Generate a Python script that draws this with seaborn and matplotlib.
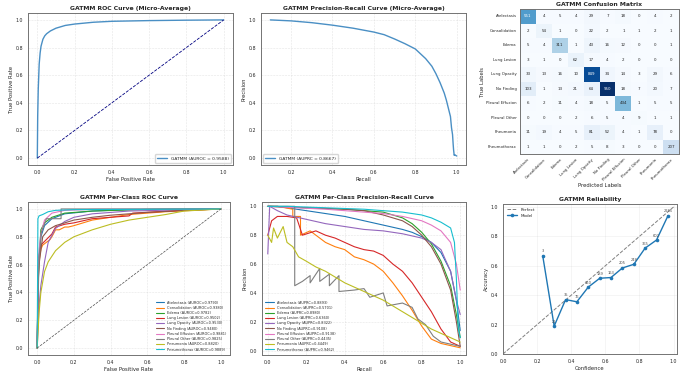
import numpy as np
import pandas as pd
import matplotlib
matplotlib.use("Agg")
import matplotlib.pyplot as plt
import seaborn as sns

# ---------------- data ----------------
classes = ["Atelectasis", "Consolidation", "Edema", "Lung Lesion", "Lung Opacity",
           "No Finding", "Pleural Effusion", "Pleural Other", "Pneumonia", "Pneumothorax"]

cm = [[551, 4, 5, 4, 29, 7, 18, 0, 4, 2],
      [2, 54, 1, 0, 22, 2, 1, 1, 2, 1],
      [5, 4, 311, 1, 43, 16, 12, 0, 0, 1],
      [3, 1, 0, 62, 17, 4, 2, 0, 0, 0],
      [33, 13, 16, 10, 849, 34, 14, 3, 29, 6],
      [103, 1, 13, 21, 64, 950, 18, 7, 20, 7],
      [6, 2, 11, 4, 18, 5, 434, 1, 5, 5],
      [0, 0, 0, 2, 6, 5, 4, 9, 1, 1],
      [11, 19, 4, 5, 81, 52, 4, 1, 78, 0],
      [1, 1, 0, 2, 5, 8, 3, 0, 0, 207]]

micro_auroc = 0.9588
micro_auprc = 0.8667
micro_fpr = [0, 0.002, 0.005, 0.01, 0.015, 0.02, 0.03, 0.04, 0.05, 0.07, 0.1, 0.15, 0.2, 0.3, 0.4, 0.6, 0.8, 1.0]
micro_tpr = [0, 0.3, 0.5, 0.68, 0.76, 0.81, 0.86, 0.885, 0.90, 0.92, 0.94, 0.96, 0.97, 0.983, 0.99, 0.995, 0.998, 1.0]

micro_rec = [0.1, 0.2, 0.3, 0.4, 0.5, 0.6, 0.65, 0.7, 0.75, 0.8, 0.85, 0.88, 0.9, 0.92, 0.94, 0.95, 0.96, 0.97,
             0.975, 0.98, 0.983, 0.985, 0.988, 0.99, 1.0]
micro_prec = [1.0, 0.993, 0.98, 0.962, 0.94, 0.912, 0.893, 0.862, 0.828, 0.79, 0.72, 0.665, 0.61, 0.545, 0.47,
              0.42, 0.36, 0.3, 0.22, 0.17, 0.1, 0.06, 0.02, 0.025, 0.015]

auroc = [0.9790, 0.9380, 0.9782, 0.9502, 0.9530, 0.9480, 0.9881, 0.9825, 0.8820, 0.9889]
auprc = [0.8893, 0.5701, 0.8980, 0.6360, 0.8322, 0.9108, 0.9138, 0.4435, 0.4449, 0.9462]

roc_fpr = [
    [0, 0.005, 0.01, 0.02, 0.04, 0.08, 0.15, 0.3, 0.5, 1.0],
    [0, 0.005, 0.01, 0.02, 0.03, 0.05, 0.07, 0.08, 0.1, 0.12, 0.15, 0.17, 0.2, 0.25, 0.3, 0.4, 0.5, 0.6, 0.7, 1.0],
    [0, 0.005, 0.02, 0.04, 0.08, 0.15, 0.3, 0.6, 1.0],
    [0, 0.005, 0.01, 0.02, 0.05, 0.08, 0.1, 0.15, 0.2, 0.3, 0.4, 0.5, 0.52, 0.65, 0.8, 1.0],
    [0, 0.01, 0.02, 0.04, 0.06, 0.1, 0.15, 0.2, 0.3, 0.5, 1.0],
    [0, 0.005, 0.01, 0.03, 0.06, 0.1, 0.15, 0.2, 0.3, 0.4, 0.6, 0.8, 1.0],
    [0, 0.005, 0.01, 0.02, 0.04, 0.08, 0.15, 0.3, 1.0],
    [0, 0.01, 0.02, 0.02, 0.03, 0.04, 0.05, 0.13, 0.13, 1.0],
    [0, 0.005, 0.01, 0.02, 0.04, 0.06, 0.1, 0.15, 0.2, 0.3, 0.4, 0.5, 0.6, 0.7, 0.8, 1.0],
    [0, 0.004, 0.01, 0.03, 0.06, 0.1, 0.2, 1.0],
]
roc_tpr = [
    [0, 0.45, 0.65, 0.8, 0.88, 0.93, 0.965, 0.985, 0.995, 1.0],
    [0, 0.45, 0.62, 0.71, 0.74, 0.76, 0.78, 0.8, 0.85, 0.85, 0.87, 0.87, 0.88, 0.9, 0.92, 0.94, 0.96, 0.97, 0.98, 1.0],
    [0, 0.5, 0.85, 0.9, 0.94, 0.97, 0.985, 0.997, 1.0],
    [0, 0.55, 0.66, 0.74, 0.78, 0.82, 0.87, 0.89, 0.9, 0.93, 0.94, 0.95, 0.97, 0.98, 0.99, 1.0],
    [0, 0.3, 0.45, 0.62, 0.76, 0.86, 0.91, 0.94, 0.965, 0.985, 1.0],
    [0, 0.45, 0.6, 0.8, 0.85, 0.88, 0.9, 0.92, 0.94, 0.955, 0.975, 0.99, 1.0],
    [0, 0.55, 0.7, 0.82, 0.92, 0.97, 0.99, 0.997, 1.0],
    [0, 0.65, 0.78, 0.82, 0.86, 0.89, 0.93, 0.93, 1.0, 1.0],
    [0, 0.12, 0.25, 0.4, 0.55, 0.62, 0.7, 0.76, 0.8, 0.85, 0.89, 0.92, 0.94, 0.96, 0.985, 1.0],
    [0, 0.93, 0.95, 0.96, 0.98, 0.99, 0.995, 1.0],
]

pr_rec = [
    [0, 0.05, 0.1, 0.2, 0.3, 0.4, 0.5, 0.6, 0.7, 0.75, 0.8, 0.85, 0.9, 0.95, 0.98, 1.0],
    [0, 0.05, 0.13, 0.13, 0.17, 0.17, 0.22, 0.25, 0.3, 0.35, 0.4, 0.45, 0.5, 0.55, 0.6, 0.65, 0.7, 0.75, 0.8, 0.85, 0.9, 1.0],
    [0, 0.2, 0.4, 0.6, 0.7, 0.75, 0.8, 0.85, 0.9, 0.95, 0.98, 1.0],
    [0, 0.02, 0.05, 0.1, 0.15, 0.18, 0.25, 0.3, 0.35, 0.4, 0.45, 0.5, 0.55, 0.6, 0.65, 0.7, 0.75, 0.8, 0.85, 0.9, 0.95, 1.0],
    [0, 0.01, 0.05, 0.1, 0.2, 0.3, 0.4, 0.5, 0.6, 0.7, 0.8, 0.85, 0.9, 0.95, 0.98, 1.0],
    [0, 0.2, 0.4, 0.5, 0.6, 0.7, 0.75, 0.8, 0.85, 0.9, 0.95, 0.98, 1.0],
    [0, 0.3, 0.5, 0.6, 0.7, 0.8, 0.85, 0.9, 0.95, 0.98, 1.0],
    [0, 0.14, 0.14, 0.18, 0.22, 0.22, 0.27, 0.27, 0.32, 0.32, 0.37, 0.37, 0.45, 0.5, 0.53, 0.6, 0.62, 0.7, 0.75,
     0.78, 0.82, 0.86, 0.9, 1.0],
    [0, 0.02, 0.03, 0.05, 0.08, 0.1, 0.13, 0.16, 0.2, 0.25, 0.3, 0.35, 0.4, 0.45, 0.5, 0.55, 0.6, 0.65, 0.7, 0.75,
     0.8, 0.85, 0.9, 0.95, 1.0],
    [0, 0.1, 0.3, 0.5, 0.6, 0.7, 0.8, 0.85, 0.9, 0.95, 0.97, 0.98, 0.99, 1.0],
]
pr_prec = [
    [1.0, 1.0, 0.99, 0.97, 0.95, 0.93, 0.9, 0.87, 0.84, 0.82, 0.79, 0.75, 0.68, 0.55, 0.35, 0.14],
    [1.0, 1.0, 0.98, 0.93, 0.93, 0.8, 0.83, 0.8, 0.75, 0.72, 0.7, 0.65, 0.63, 0.6, 0.55, 0.47, 0.38, 0.28, 0.17,
     0.08, 0.05, 0.02],
    [1.0, 0.99, 0.98, 0.96, 0.92, 0.88, 0.82, 0.74, 0.62, 0.45, 0.25, 0.09],
    [0.8, 0.9, 0.93, 0.93, 0.92, 0.8, 0.83, 0.8, 0.78, 0.75, 0.72, 0.7, 0.69, 0.66, 0.6, 0.55, 0.47, 0.37, 0.27,
     0.15, 0.06, 0.03],
    [0.67, 1.0, 0.97, 0.94, 0.91, 0.88, 0.86, 0.84, 0.83, 0.81, 0.78, 0.75, 0.7, 0.55, 0.35, 0.25],
    [1.0, 0.99, 0.98, 0.97, 0.94, 0.9, 0.86, 0.8, 0.72, 0.6, 0.42, 0.2, 0.03],
    [1.0, 0.98, 0.96, 0.95, 0.93, 0.9, 0.87, 0.83, 0.75, 0.6, 0.42],
    [1.0, 1.0, 0.45, 0.48, 0.52, 0.47, 0.57, 0.48, 0.53, 0.45, 0.52, 0.41, 0.42, 0.43, 0.37, 0.4, 0.31, 0.33, 0.3,
     0.22, 0.18, 0.1, 0.06, 0.03],
    [0.8, 0.75, 0.85, 0.78, 0.86, 0.75, 0.72, 0.65, 0.62, 0.58, 0.55, 0.51, 0.47, 0.44, 0.41, 0.38, 0.35, 0.31,
     0.27, 0.23, 0.19, 0.15, 0.12, 0.09, 0.06],
    [1.0, 1.0, 0.99, 0.98, 0.97, 0.96, 0.94, 0.92, 0.89, 0.85, 0.75, 0.5, 0.15, 0.09],
]

rel_conf = [0.233, 0.3, 0.367, 0.433, 0.5, 0.567, 0.633, 0.7, 0.767, 0.833, 0.9, 0.967]
rel_acc = [0.667, 0.19, 0.37, 0.355, 0.455, 0.515, 0.52, 0.585, 0.61, 0.72, 0.775, 0.94]
rel_cnt = [3, 21, 35, 76, 150, 189, 163, 205, 248, 365, 602, 2285]

# ---------------- style ----------------
sns.set_style("white")
plt.rcParams["font.family"] = ["DejaVu Sans"]
TITLE = 4.4
LAB = 3.8
TICK = 3.4
SPINE = "0.45"

fig = plt.figure(figsize=(6.85, 3.72), dpi=100)
W, H = 685.0, 372.0


def add_ax(l, t, r, b):
    return fig.add_axes([l / W, 1 - b / H, (r - l) / W, (b - t) / H])


def style(ax, title, xl, yl, grid_ls="--"):
    ax.set_title(title, fontsize=TITLE, fontweight="bold", pad=2.5)
    ax.set_xlabel(xl, fontsize=LAB, labelpad=1.5)
    ax.set_ylabel(yl, fontsize=LAB, labelpad=1.5)
    ax.tick_params(labelsize=TICK, length=1.8, width=0.5, pad=1.5, color=SPINE)
    ax.grid(True, linestyle=grid_ls, linewidth=0.4, alpha=0.5)
    for s in ax.spines.values():
        s.set_color(SPINE)
        s.set_linewidth(0.7)


ticks = [0.0, 0.2, 0.4, 0.6, 0.8, 1.0]
pal = sns.color_palette("tab10", 10)

# ---- micro ROC ----
ax1 = add_ax(28, 13, 233, 165)
sns.lineplot(x=micro_fpr, y=micro_tpr, ax=ax1, color="#4a8fc4", lw=1.0, sort=False, estimator=None,
             label=f"GATMM (AUROC = {micro_auroc:.4f})")
ax1.plot([0, 1], [0, 1], color="navy", lw=0.6, ls="--")
ax1.set_xlim(-0.05, 1.05)
ax1.set_ylim(-0.05, 1.05)
ax1.set_xticks(ticks)
ax1.set_yticks(ticks)
style(ax1, "GATMM ROC Curve (Micro-Average)", "False Positive Rate", "True Positive Rate")
ax1.legend(loc="lower right", fontsize=3.2, frameon=True, handlelength=2.2, borderpad=0.5,
           edgecolor="0.8", fancybox=True)

# ---- micro PR ----
ax2 = add_ax(261, 13, 466, 165)
sns.lineplot(x=micro_rec, y=micro_prec, ax=ax2, color="#4a8fc4", lw=1.0, sort=False, estimator=None,
             label=f"GATMM (AUPRC = {micro_auprc:.4f})")
ax2.set_xlim(0.055, 1.045)
ax2.set_ylim(-0.05, 1.05)
ax2.set_xticks([0.2, 0.4, 0.6, 0.8, 1.0])
ax2.set_yticks(ticks)
style(ax2, "GATMM Precision-Recall Curve (Micro-Average)", "Recall", "Precision")
ax2.legend(loc="lower left", fontsize=3.2, frameon=True, handlelength=2.2, borderpad=0.5,
           edgecolor="0.8", fancybox=True)

# ---- confusion matrix ----
ax3 = add_ax(520, 9, 679, 154)
cm_df = pd.DataFrame(cm, index=classes, columns=classes)
sns.heatmap(cm_df, annot=True, fmt="d", cmap="Blues", cbar=False, ax=ax3,
            xticklabels=classes, yticklabels=classes,
            annot_kws={"fontsize": 2.9}, linewidths=0)
ax3.set_title("GATMM Confusion Matrix", fontsize=TITLE, fontweight="bold", pad=2.5)
ax3.set_xlabel("Predicted Labels", fontsize=LAB, labelpad=1)
ax3.set_ylabel("True Labels", fontsize=LAB, labelpad=1)
ax3.tick_params(labelsize=2.8, length=1.5, width=0.4, pad=1)
plt.setp(ax3.get_xticklabels(), rotation=45, ha="right", rotation_mode="anchor")
plt.setp(ax3.get_yticklabels(), rotation=0)
for s in ax3.spines.values():
    s.set_visible(True)
    s.set_color(SPINE)
    s.set_linewidth(0.7)

# ---- per-class ROC ----
ax4 = add_ax(28, 202, 230, 355)
rows = []
for i, c in enumerate(classes):
    lab = f"{c} (AUROC={auroc[i]:.4f})"
    for k, (x, y) in enumerate(zip(roc_fpr[i], roc_tpr[i])):
        rows.append((lab, k, x, y))
roc_df = pd.DataFrame(rows, columns=["label", "k", "fpr", "tpr"])
sns.lineplot(data=roc_df, x="fpr", y="tpr", hue="label", palette=pal, sort=False, estimator=None,
             units="label", lw=0.8, ax=ax4)
ax4.plot([0, 1], [0, 1], color="0.3", lw=0.5, ls="--")
ax4.set_xlim(-0.05, 1.05)
ax4.set_ylim(-0.05, 1.05)
ax4.set_xticks(ticks)
ax4.set_yticks(ticks)
style(ax4, "GATMM Per-Class ROC Curve", "False Positive Rate", "True Positive Rate")
ax4.legend(loc="lower right", fontsize=2.5, frameon=False, handlelength=2.5, labelspacing=0.35,
           borderaxespad=0.6)

# ---- per-class PR ----
ax5 = add_ax(262, 202, 466, 355)
rows = []
for i, c in enumerate(classes):
    lab = f"{c} (AUPRC={auprc[i]:.4f})"
    for k, (x, y) in enumerate(zip(pr_rec[i], pr_prec[i])):
        rows.append((lab, k, x, y))
pr_df = pd.DataFrame(rows, columns=["label", "k", "rec", "prec"])
sns.lineplot(data=pr_df, x="rec", y="prec", hue="label", palette=pal, sort=False, estimator=None,
             units="label", lw=0.8, ax=ax5)
ax5.set_xlim(-0.03, 1.03)
ax5.set_ylim(-0.03, 1.03)
ax5.set_xticks(ticks)
ax5.set_yticks(ticks)
style(ax5, "GATMM Per-Class Precision-Recall Curve", "Recall", "Precision")
ax5.legend(loc="lower left", fontsize=2.5, frameon=False, handlelength=2.5, labelspacing=0.35,
           borderaxespad=0.6)

# ---- reliability ----
ax6 = add_ax(503, 204, 677, 354)
ax6.plot([0, 1], [0, 1], color="gray", ls="--", lw=0.7, label="Perfect")
sns.lineplot(x=rel_conf, y=rel_acc, ax=ax6, color="#1f77b4", lw=1.0, marker="o", markersize=2.6,
             markeredgewidth=0, sort=False, estimator=None, label="Model")
for x, y, n in zip(rel_conf, rel_acc, rel_cnt):
    ax6.annotate(str(n), (x, y), xytext=(0, 2.5), textcoords="offset points", ha="center",
                 fontsize=2.6, color="0.3")
ax6.set_xlim(0, 1.02)
ax6.set_ylim(0, 1.02)
ax6.set_xticks(ticks)
ax6.set_yticks(ticks)
style(ax6, "GATMM Reliability", "Confidence", "Accuracy", grid_ls="-")
ax6.grid(True, linestyle="-", linewidth=0.4, alpha=0.35)
ax6.legend(loc="upper left", fontsize=3.0, frameon=False, handlelength=2.5)

fig.savefig("out.png", dpi=100, facecolor="white")
